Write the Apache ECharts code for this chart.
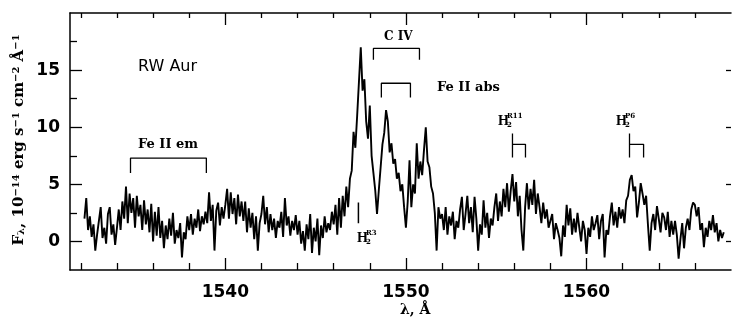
<!DOCTYPE html>
<html>
<head>
<meta charset="utf-8">
<script src="https://cdn.jsdelivr.net/npm/echarts@6/dist/echarts.min.js"></script>
<style>
  html, body { margin: 0; padding: 0; background: #fff; }
  #chart { width: 734px; height: 328px; }
</style>
</head>
<body>
<div id="chart"></div>
<script>
// RW Aur spectrum around C IV 1550, flux in 1e-14 erg/s/cm2/A
const waveStart = 1532.2
const waveStep = 0.1
const flux = [
  2.0, 3.8, 1.0, 2.2, 0.4, 1.5, -0.8, 0.6,
  1.8, 3.0, 0.3, 1.2, -0.2, 2.4, 3.0, 0.6, 1.5, -0.3,
  1.2, 2.8, 1.0, 3.5, 2.0, 4.8, 1.6, 4.2, 2.5, 3.8,
  1.2, 4.0, 2.2, 3.2, 1.0, 3.6, 1.5, 2.8, 0.8, 3.3,
  0.0, 2.6, 0.5, 3.0, 0.3, 1.8, -0.6, 1.4, 0.2, 2.0,
  0.5, 2.5, -0.2, 1.0, 0.3, 1.6, -1.4, 0.8, 0.2, 2.2,
  1.0, 2.4, 0.6, 2.0, 1.2, 2.8, 0.9, 2.2, 1.5, 2.6,
  1.6, 4.3, 1.8, 3.2, -0.8, 2.7, 3.4, 1.4, 3.0, 2.0,
  3.2, 4.6, 2.0, 4.3, 2.4, 3.8, 1.5, 4.1, 2.2, 3.5,
  1.8, 3.5, 0.8, 2.9, 1.2, 2.5, 0.2, 2.2, -0.8, 1.6,
  2.4, 4.0, 1.5, 3.0, 0.8, 2.4, 1.0, 2.0, 0.3, 1.8,
  1.2, 2.6, 0.4, 3.8, 1.4, 2.2, 0.5, 1.8, 1.0, 2.3,
  0.6, 1.8, -0.2, 0.9, -0.8, 1.5, 0.2, 2.4, -1.0, 1.2,
  0.0, 2.0, -1.2, 1.4, 0.3, 2.2, 0.8, 1.6, 1.0, 2.6,
  1.5, 3.2, 0.6, 3.8, 1.2, 4.0, 2.2, 4.8, 3.0, 5.5,
  6.2, 9.6, 8.2, 11.0, 14.0, 17.0, 13.2, 14.2, 10.5, 9.0,
  11.9, 7.5, 6.0, 4.5, 2.4, 4.5, 6.5, 8.5, 9.5, 11.5,
  10.5, 7.8, 8.6, 6.8, 7.2, 5.5, 6.0, 4.4, 5.0, 3.0,
  1.2, 3.5, 7.1, 3.0, 5.0, 4.2, 8.6, 5.5, 7.0, 5.8,
  8.0, 10.0, 7.0, 6.5, 4.8, 4.2, 2.5, -0.8, 3.0, 2.0,
  2.4, 1.0, 3.0, 0.6, 2.2, 1.4, 2.6, 0.2, 1.8, 1.2,
  2.8, 3.9, 1.0, 2.4, 4.0, 1.6, 3.0, 0.8, 3.9, 2.0,
  -0.8, 1.5, 0.6, 3.6, 1.2, 2.5, 0.3, 2.0, 1.4, 3.0,
  4.2, 1.8, 3.5, 2.2, 4.6, 3.0, 5.1, 2.6, 4.4, 5.9,
  3.5, 5.2, 2.2, 4.0, 1.0, -0.8, 3.0, 5.1, 2.8, 4.6,
  3.2, 5.4, 2.4, 4.2, 3.0, 1.6, 3.4, 2.0, 2.8, 1.2,
  1.2, 2.4, 0.2, 1.6, 1.0, 0.3, -1.3, 1.4, 0.4, 3.2,
  1.4, 2.9, 0.6, 2.0, 0.8, 2.5, 1.2, 0.0, 1.8, 1.0,
  -1.1, 1.2, 0.4, 2.2, 1.0, 1.6, 2.3, 0.2, 1.8, 2.4,
  -1.4, 1.0, 0.6, 2.2, 3.4, 1.4, 2.6, 1.2, 3.0, 2.0,
  2.8, 1.6, 3.6, 4.0, 5.4, 5.8, 4.4, 4.8, 2.1, 3.4,
  5.1, 4.2, 3.2, 4.0, 1.5, -0.8, 1.6, 2.4, 1.0, 3.1,
  2.0, 0.8, 2.5, 2.1, 1.0, 2.6, 0.4, 1.8, 0.6, 1.8,
  0.6, -1.5, 0.2, 1.6, -0.6, 1.2, 2.0, 1.0, 2.8, 3.4,
  3.2, 2.2, 3.0, 1.0, 1.6, -0.5, 1.2, 0.4, 1.8, 1.0,
  2.3, 0.8, 1.6, 0.0, 1.0, 0.3, 0.8
]

const xMajor = [1540, 1550, 1560]
const xMinor = [1532, 1534, 1536, 1538, 1542, 1544, 1546, 1548, 1552, 1554, 1556, 1558, 1562, 1564, 1566]
const yMajor = [0, 5, 10, 15]
const yMinor = [2.5, 7.5, 12.5, 17.5]

// line identifications: [left, right, top, leg end]
const feEmBracket = [1534.75, 1538.95, 7.3, 6.0]
const civBracket = [1548.2, 1550.75, 16.9, 15.9]
const feAbsBracket = [1548.64, 1550.25, 13.85, 12.6]
// H2 markers: [left, right, top, bar, bottom]
const h2R11 = [1555.9, 1556.62, 9.45, 8.5, 7.35]
const h2P6 = [1562.38, 1563.16, 9.45, 8.5, 7.35]
const h2R3 = [1547.37, 3.4, 1.6]

const spectrum = flux.map((f, i) => [waveStart + i * waveStep, f])

function bracket(b) {
  return [[b[0], b[3]], [b[0], b[2]], [b[1], b[2]], [b[1], b[3]]]
}
function h2Mark(m) {
  return [[m[0], m[4]], [m[0], m[2]], [m[0], m[3]], [m[1], m[3]], [m[1], m[4]]]
}

const serifBold = { fontFamily: 'DejaVu Serif', fontWeight: 'bold', fill: '#000' }

function txt(x, y, text, size, extra) {
  return {
    type: 'text', x: x, y: y, silent: true,
    style: Object.assign({ text: text, fontSize: size, align: 'left', verticalAlign: 'middle' }, serifBold, extra || {})
  }
}
function h2Label(x, y, sup) {
  return [
    txt(x, y, 'H', 14, { fontFamily: 'Liberation Serif' }),
    txt(x + 9, y - 5, sup, 7),
    txt(x + 9, y + 4, '2', 7)
  ]
}

const chart = echarts.init(document.getElementById('chart'))

const xRange = { min: 1531.4, max: 1568.0 }
const yRange = { min: -2.5, max: 20 }
const blk = { color: '#000', width: 1.5 }

function xAx(pos, vals, len, line, labels) {
  return Object.assign({
    type: 'value', position: pos, scale: true,
    axisLine: { show: line, onZero: false, lineStyle: blk },
    axisTick: { show: true, inside: true, length: len, customValues: vals, lineStyle: { color: '#000', width: 1.3 } },
    axisLabel: labels ? {
      show: true, customValues: vals, margin: 14, color: '#000',
      fontFamily: 'DejaVu Sans', fontWeight: 'bold', fontSize: 17,
      formatter: v => String(v)
    } : { show: false },
    splitLine: { show: false }
  }, xRange)
}
function yAx(pos, vals, len, line, labels) {
  return Object.assign({
    type: 'value', position: pos,
    axisLine: { show: line, onZero: false, lineStyle: blk },
    axisTick: { show: true, inside: true, length: len, customValues: vals, lineStyle: { color: '#000', width: 1.3 } },
    axisLabel: labels ? {
      show: true, customValues: vals, margin: 10, color: '#000',
      fontFamily: 'DejaVu Sans', fontWeight: 'bold', fontSize: 17,
      formatter: v => String(v)
    } : { show: false },
    splitLine: { show: false }
  }, yRange)
}

const lineSeries = (data, width) => ({
  type: 'line', data: data, xAxisIndex: 0, yAxisIndex: 0,
  showSymbol: false, symbol: 'none', silent: true, animation: false,
  lineStyle: { color: '#000', width: width }
})

chart.setOption({
  animation: false,
  grid: { left: 70, right: 3, top: 13, bottom: 58 },
  xAxis: [
    xAx('bottom', xMajor, 12, true, true),
    xAx('bottom', xMinor, 7, false, false),
    xAx('top', xMajor, 12, true, false),
    xAx('top', xMinor, 5, false, false)
  ],
  yAxis: [
    yAx('left', yMajor, 12, true, true),
    yAx('left', yMinor, 7, false, false),
    yAx('right', yMajor, 5, false, false)
  ],
  series: [
    lineSeries(spectrum, 1.9),
    lineSeries(bracket(feEmBracket), 1.3),
    lineSeries(bracket(civBracket), 1.3),
    lineSeries(bracket(feAbsBracket), 1.3),
    lineSeries(h2Mark(h2R11), 1.3),
    lineSeries(h2Mark(h2P6), 1.3),
    lineSeries([[h2R3[0], h2R3[2]], [h2R3[0], h2R3[1]]], 1.5)
  ],
  graphic: [
    { type: 'text', x: 138, y: 67, silent: true,
      style: { text: 'RW Aur', fontFamily: 'DejaVu Sans', fontSize: 16, fill: '#000', verticalAlign: 'middle' } },
    txt(138, 145, 'Fe II em', 13),
    txt(384, 37, 'C IV', 12),
    txt(437, 88, 'Fe II abs', 13),
    ...h2Label(498, 121, 'R11'),
    ...h2Label(616, 121, 'P6'),
    ...h2Label(357, 238, 'R3'),
    txt(400, 310, 'λ, Å', 14),
    { type: 'text', x: 19, y: 140, rotation: Math.PI / 2, silent: true,
      style: {
        text: 'F{sub|λ}, 10{sup|−14} erg s{sup|−1} cm{sup|−2} Å{sup|−1}',
        fontFamily: 'DejaVu Serif', fontWeight: 'bold', fontSize: 15, fill: '#000',
        align: 'center', verticalAlign: 'middle',
        rich: {
          sub: { fontFamily: 'DejaVu Serif', fontWeight: 'bold', fontSize: 10, verticalAlign: 'bottom' },
          sup: { fontFamily: 'DejaVu Serif', fontWeight: 'bold', fontSize: 10, verticalAlign: 'top' }
        }
      } }
  ]
})
</script>
</body>
</html>
